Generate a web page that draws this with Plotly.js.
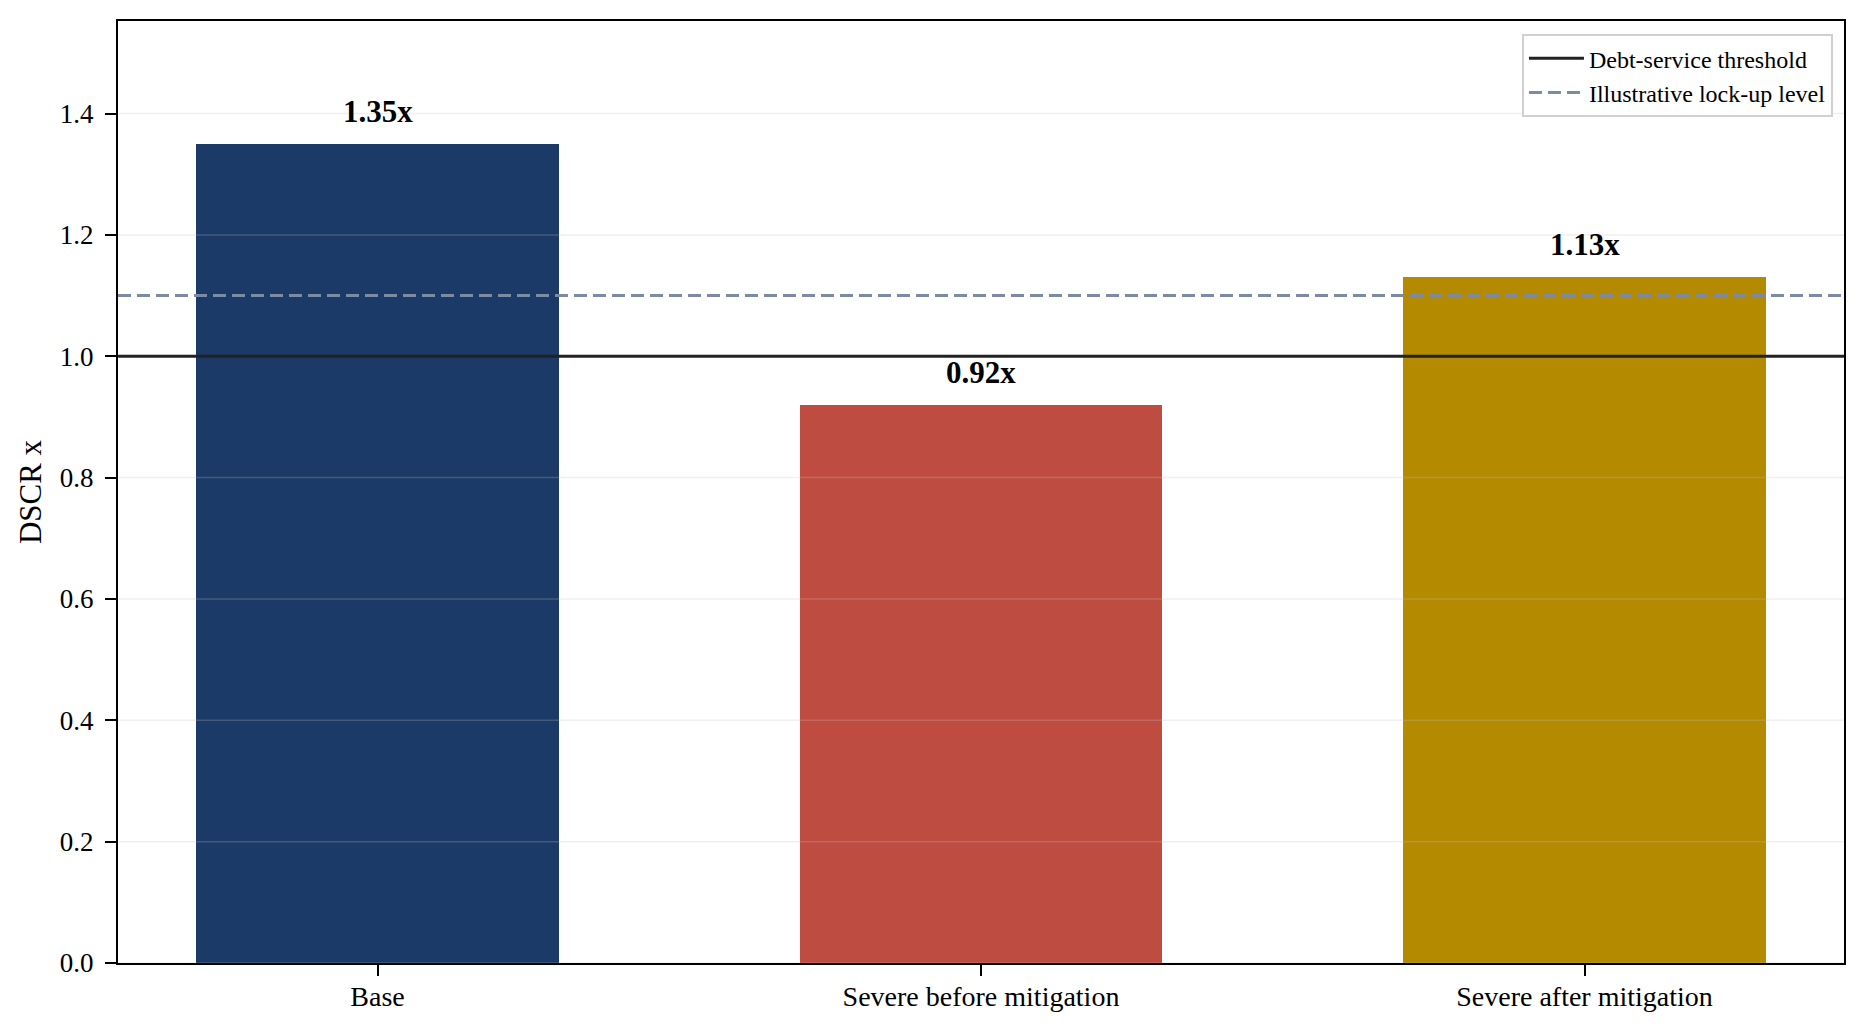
<!DOCTYPE html>
<html>
<head>
<meta charset="utf-8">
<script src="https://cdn.plot.ly/plotly-3.0.1.min.js"></script>
<style>
  html, body { margin: 0; padding: 0; background: #fff; }
  #chart { width: 1866px; height: 1033px; }
</style>
</head>
<body>
<div id="chart"></div>
<script>
"use strict";

// scenarios and their DSCR
const scenarios = ["Base", "Severe before mitigation", "Severe after mitigation"];
const dscr = [1.35, 0.92, 1.13];
const barColors = ["#1b3a67", "#bf4c41", "#b48a00"];

// reference levels
const thresholdLevel = 1.0;
const lockupLevel = 1.1;

const yTickVals = [0, 0.2, 0.4, 0.6, 0.8, 1.0, 1.2, 1.4];

const FONT = "Liberation Serif, Times New Roman, serif";
const xPos = scenarios.map((_, i) => i);

const bars = {
    type: "bar",
    x: xPos,
    y: dscr,
    width: 0.6,
    marker: { color: barColors, line: { width: 0 } },
    showlegend: false,
    hoverinfo: "y",
};

// grid drawn on top of the bars, like the original
const gridShapes = yTickVals.map(v => ({
    type: "line", xref: "paper", x0: 0, x1: 1, yref: "y", y0: v, y1: v,
    layer: "above",
    line: { color: "rgba(190,190,190,0.25)", width: 1.5 },
}));

const refShapes = [
    {
        type: "line", xref: "paper", x0: 0, x1: 1, yref: "y",
        y0: thresholdLevel, y1: thresholdLevel, layer: "above",
        line: { color: "#222222", width: 3 },
        showlegend: true, name: "Debt-service threshold",
    },
    {
        type: "line", xref: "paper", x0: 0, x1: 1, yref: "y",
        y0: lockupLevel, y1: lockupLevel, layer: "above",
        line: { color: "#7d8aa3", width: 3, dash: "13px,6px" },
        showlegend: true, name: "Illustrative lock-up level",
    },
];

const labels = dscr.map((v, i) => ({
    x: i, y: v, xref: "x", yref: "y",
    text: v.toFixed(2) + "x",
    showarrow: false,
    yanchor: "bottom",
    yshift: 13,
    font: { family: FONT, size: 31, color: "#000", weight: "bold" },
}));

/**@type {PlotlyLayout} */
const layout = {
    width: 1866,
    height: 1033,
    margin: { l: 118, r: 22, t: 21, b: 70 },
    paper_bgcolor: "#ffffff",
    plot_bgcolor: "#ffffff",
    font: { family: FONT, color: "#000" },
    bargap: 0,
    xaxis: {
        range: [-0.43, 2.43],
        tickvals: xPos,
        ticktext: scenarios,
        showgrid: false,
        zeroline: false,
        showline: true, mirror: true, linecolor: "#000", linewidth: 2,
        ticks: "outside", ticklen: 11, tickwidth: 2, tickcolor: "#000",
        tickfont: { family: FONT, size: 28, color: "#000" },
        ticklabelstandoff: -4,
        fixedrange: true,
    },
    yaxis: {
        range: [0, 1.5525],
        tickvals: yTickVals,
        ticktext: yTickVals.map(v => v.toFixed(1)),
        showgrid: false,
        zeroline: false,
        showline: true, mirror: true, linecolor: "#000", linewidth: 2,
        ticks: "outside", ticklen: 11, tickwidth: 2, tickcolor: "#000",
        tickfont: { family: FONT, size: 27, color: "#000" },
        ticklabelstandoff: 6,
        title: { text: "DSCR x", font: { family: FONT, size: 31, color: "#000" }, standoff: 9 },
        automargin: false,
        fixedrange: true,
    },
    showlegend: true,
    legend: {
        x: 0.9936, xanchor: "right",
        y: 0.986, yanchor: "top",
        bgcolor: "rgba(255,255,255,0.85)",
        bordercolor: "#d0d0d0",
        borderwidth: 2,
        itemwidth: 55,
        font: { family: FONT, size: 24, color: "#000" },
        tracegroupgap: 0,
    },
    shapes: gridShapes.concat(refShapes),
    annotations: labels,
};

Plotly.newPlot("chart", [bars], layout, { displayModeBar: false, staticPlot: true });
</script>
</body>
</html>
